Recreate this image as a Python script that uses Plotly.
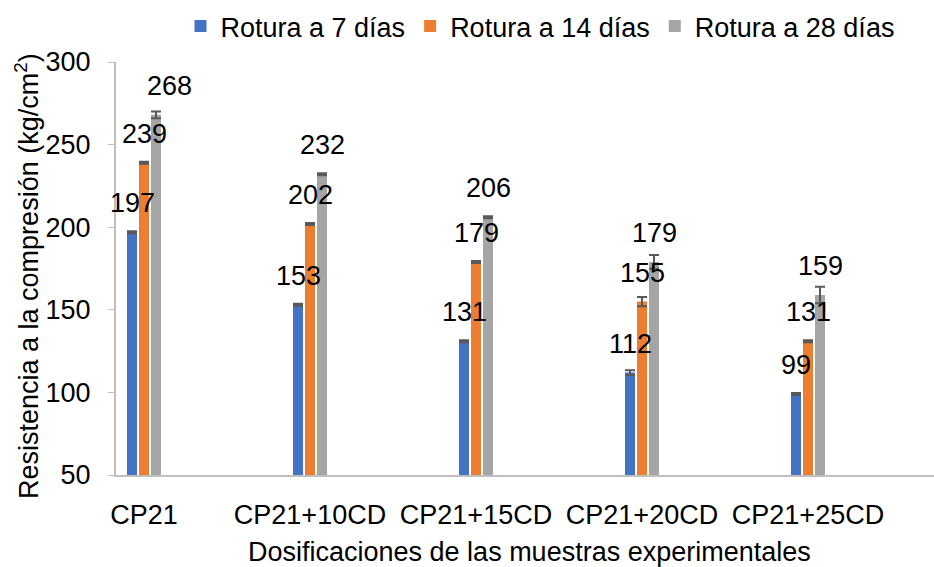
import plotly.graph_objects as go

categories = ["CP21", "CP21+10CD", "CP21+15CD", "CP21+20CD", "CP21+25CD"]
series_names = ["Rotura a 7 días", "Rotura a 14 días", "Rotura a 28 días"]
rotura_7 = [197, 153, 131, 112, 99]
rotura_14 = [239, 202, 179, 155, 131]
rotura_28 = [268, 232, 206, 179, 159]
err_7 = [0.6, 0.6, 0.6, 1.4, 0.6]
err_14 = [0.6, 0.6, 0.6, 2.8, 0.6]
err_28 = [2.0, 0.6, 0.6, 4.1, 5.0]
y_ticks = [50, 100, 150, 200, 250, 300]

colors = ["#4472C4", "#ED7D31", "#A5A5A5"]
FONT = "Liberation Sans, Arial, sans-serif"
FS = 27

W_PX, H_PX = 934, 567
L, R, T, B = 116, 0, 62, 92
plot_w = W_PX - L - R
plot_h = H_PX - T - B
cat_px = 166.0
bar_w = 10.0 / cat_px
centers = [-12.0 / cat_px, 0.0, 12.0 / cat_px]
x_lo = -28.0 / cat_px
x_hi = x_lo + plot_w / cat_px

# extra label shifts (px) for readability, as in the original
label_xshift = {(2, 0): 13}

fig = go.Figure()
all_vals = [rotura_7, rotura_14, rotura_28]
all_err = [err_7, err_14, err_28]
xs = list(range(len(categories)))
for s in range(3):
    fig.add_trace(go.Bar(
        x=xs, y=all_vals[s], name=series_names[s],
        marker=dict(color=colors[s], line=dict(width=0)),
        width=bar_w, offset=centers[s] - bar_w / 2,
        error_y=dict(type="data", array=all_err[s], visible=True,
                     color="#595959", thickness=2, width=5),
    ))
    for i, v in enumerate(all_vals[s]):
        fig.add_annotation(
            x=i + centers[s], y=v, text=str(v), showarrow=False,
            xref="x", yref="y", yanchor="middle", xanchor="center",
            yshift=29, xshift=label_xshift.get((s, i), 0),
            font=dict(family=FONT, size=FS, color="#000000"),
        )

fig.add_annotation(
    text="Resistencia a la compresión (kg/cm<sup>2</sup>)",
    xref="paper", yref="paper", x=(27 - L) / plot_w, y=(475 - 276) / plot_h,
    textangle=-90, showarrow=False, xanchor="center", yanchor="middle",
    font=dict(family=FONT, size=FS, color="#000000"),
)
fig.add_annotation(
    text="Dosificaciones de las muestras experimentales",
    xref="paper", yref="paper", x=(529 - L) / plot_w,
    y=(475 - 552) / plot_h,
    showarrow=False, xanchor="center", yanchor="middle",
    font=dict(family=FONT, size=FS, color="#000000"),
)

fig.update_layout(
    width=W_PX, height=H_PX,
    margin=dict(l=L, r=R, t=T, b=B, autoexpand=False),
    paper_bgcolor="white", plot_bgcolor="white",
    barmode="overlay",
    showlegend=True,
    legend=dict(orientation="h", xref="container", yref="container",
                x=540 / W_PX, xanchor="center",
                y=1 - 2 / H_PX, yanchor="top",
                font=dict(family=FONT, size=FS, color="#000000"),
                itemsizing="constant", bgcolor="rgba(0,0,0,0)"),
    font=dict(family=FONT, size=FS, color="#000000"),
    xaxis=dict(range=[x_lo, x_hi], tickmode="array", tickvals=xs,
               ticktext=categories, showgrid=False, zeroline=False,
               showline=True, linecolor="#BFBFBF", linewidth=2,
               ticks="", ticklabelstandoff=15, automargin=False,
               tickfont=dict(family=FONT, size=FS, color="#000000")),
    yaxis=dict(range=[50, 300], tickmode="array", tickvals=y_ticks,
               showgrid=False, zeroline=False, showline=True,
               linecolor="#BFBFBF", linewidth=2, ticks="outside",
               ticklen=6, tickcolor="#BFBFBF", tickwidth=1,
               ticklabelstandoff=12, automargin=False,
               tickfont=dict(family=FONT, size=FS, color="#000000")),
)

fig.write_html("out.html",
               config={"displayModeBar": False},
               post_script="document.body.style.margin='0px';"
                           "document.body.style.overflow='hidden';")
